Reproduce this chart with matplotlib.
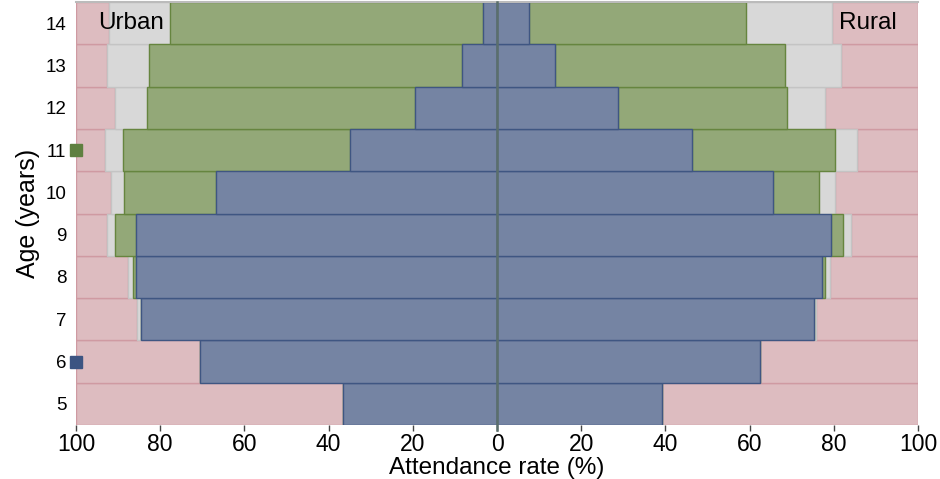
import matplotlib
matplotlib.use("Agg")
import matplotlib.pyplot as plt
import numpy as np

ages = [5, 6, 7, 8, 9, 10, 11, 12, 13, 14]

# attendance rate (%) by level
urban_primary = [36.5, 70.6, 84.6, 85.8, 85.8, 66.8, 34.9, 19.5, 8.3, 3.4]
urban_secondary = [0.0, 0.0, 0.0, 0.7, 4.9, 21.7, 54.0, 63.7, 74.3, 74.3]
urban_other = [0.0, 0.0, 0.8, 1.2, 1.9, 3.1, 4.1, 7.5, 10.0, 14.5]

rural_primary = [39.1, 62.4, 75.2, 77.3, 79.4, 65.5, 46.2, 28.7, 13.8, 7.6]
rural_secondary = [0.0, 0.0, 0.0, 0.6, 2.7, 11.1, 34.0, 40.2, 54.5, 51.6]
rural_other = [0.0, 0.0, 0.6, 1.2, 2.1, 3.6, 5.2, 9.0, 13.4, 20.4]

start_age = {"primary": 6, "secondary": 11}

c_blue, c_green, c_gray, c_pink = "#7584a3", "#93a878", "#d8d8d8", "#ddbcc0"
e_blue, e_green, e_gray, e_pink = "#3f5682", "#66853f", "#c4c4c4", "#cf9aa2"

plt.rcParams["font.family"] = ["Liberation Sans", "DejaVu Sans"]

fig = plt.figure(figsize=(9.4, 4.79), dpi=100)
ax = fig.add_axes([76 / 940, 1 - 425 / 479, (918 - 76) / 940, 423 / 479])

y = np.arange(len(ages))


def draw_side(sign, prim, sec, oth):
    prim = np.array(prim)
    sec = np.array(sec)
    oth = np.array(oth)
    done = prim + sec + oth
    kw = dict(height=1.0, linewidth=1.0)
    ax.barh(y, sign * (100 - done), left=sign * done, color=c_pink, edgecolor=e_pink, **kw)
    ax.barh(y, sign * oth, left=sign * (prim + sec), color=c_gray, edgecolor=e_gray, **kw)
    ax.barh(y, sign * sec, left=sign * prim, color=c_green, edgecolor=e_green, **kw)
    ax.barh(y, sign * prim, color=c_blue, edgecolor=e_blue, **kw)


draw_side(-1, urban_primary, urban_secondary, urban_other)
draw_side(1, rural_primary, rural_secondary, rural_other)

ax.axvline(0, color="#5b6f6c", linewidth=1.8, ymin=-0.012, clip_on=False, zorder=5)

# school entry ages marked on the left edge
ax.plot(-100, ages.index(start_age["primary"]), "s", color="#3c5482", markersize=9,
        clip_on=False, zorder=6)
ax.plot(-100, ages.index(start_age["secondary"]), "s", color="#5f8040", markersize=9,
        clip_on=False, zorder=6)

ax.set_xlim(-100, 100)
ax.set_ylim(-0.5, len(ages) - 0.5)
ticks = np.arange(-100, 101, 20)
ax.set_xticks(ticks)
ax.set_xticklabels([str(abs(t)) for t in ticks], fontsize=16.5)
ax.set_yticks(y)
ax.set_yticklabels([str(a) for a in ages], fontsize=13.5)
ax.tick_params(axis="y", length=0, pad=7)
ax.tick_params(axis="x", length=4, width=1, color="#444444", pad=2)

for s in ["left", "right", "bottom"]:
    ax.spines[s].set_visible(False)
ax.spines["top"].set_color("#bbbbbb")
ax.spines["top"].set_linewidth(1.5)

ax.set_xlabel("Attendance rate (%)", fontsize=17.5, labelpad=0.5)
ax.set_ylabel("Age (years)", fontsize=18, labelpad=4)

ax.text(-94.8, len(ages) - 1, "Urban", fontsize=17.5, va="center", ha="left", zorder=7)
ax.text(95, len(ages) - 1, "Rural", fontsize=17.5, va="center", ha="right", zorder=7)

fig.savefig("out.png", dpi=100)
